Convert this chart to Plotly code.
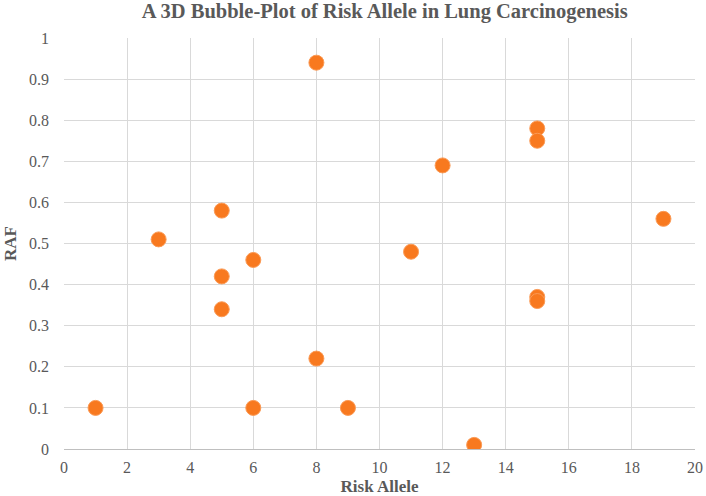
import plotly.graph_objects as go

# Risk allele vs RAF
risk_allele = [1, 3, 5, 5, 5, 6, 6, 8, 8, 9, 11, 12, 13, 15, 15, 15, 15, 19]
raf = [0.10, 0.51, 0.58, 0.42, 0.34, 0.46, 0.10, 0.94, 0.22, 0.10,
       0.48, 0.69, 0.01, 0.78, 0.75, 0.37, 0.36, 0.56]

font_serif = "Times New Roman, Liberation Serif, serif"
grey = "#595959"

fig = go.Figure(go.Scatter(
    x=risk_allele, y=raf, mode="markers",
    marker=dict(size=15, color="#F8791F",
                line=dict(width=1, color="#FB9A55")),
))

fig.update_layout(
    width=706, height=496,
    margin=dict(l=64, r=11, t=38, b=47, autoexpand=False),
    paper_bgcolor="white", plot_bgcolor="white",
    showlegend=False,
    title=dict(text="<b>A 3D Bubble-Plot of Risk Allele in Lung Carcinogenesis</b>",
               x=0.545, xanchor="center", y=0.992, yanchor="top",
               font=dict(family=font_serif, size=20.5, color=grey)),
    font=dict(family=font_serif, size=16, color=grey),
)
fig.update_xaxes(range=[0, 20], dtick=2, showgrid=True, gridcolor="#d9d9d9",
                 zeroline=False, showline=True, linecolor="#bfbfbf",
                 ticks="", automargin=False, ticklabelstandoff=4,
                 tickfont=dict(family=font_serif, size=16, color=grey),
                 title=dict(text="<b>Risk Allele</b>", standoff=4,
                            font=dict(family=font_serif, size=17, color=grey)))
fig.update_yaxes(range=[0, 1], dtick=0.1, showgrid=True, gridcolor="#d9d9d9",
                 zeroline=False, showline=False, ticks="", automargin=False,
                 ticklabelstandoff=14,
                 tickfont=dict(family=font_serif, size=16, color=grey),
                 title=dict(text="<b>RAF</b>", standoff=8,
                            font=dict(family=font_serif, size=17, color=grey)))

# drop the default page margin so the figure fills the window
fig.write_html("out.html", config={"displayModeBar": False},
               post_script="document.body.style.margin = '0';")
